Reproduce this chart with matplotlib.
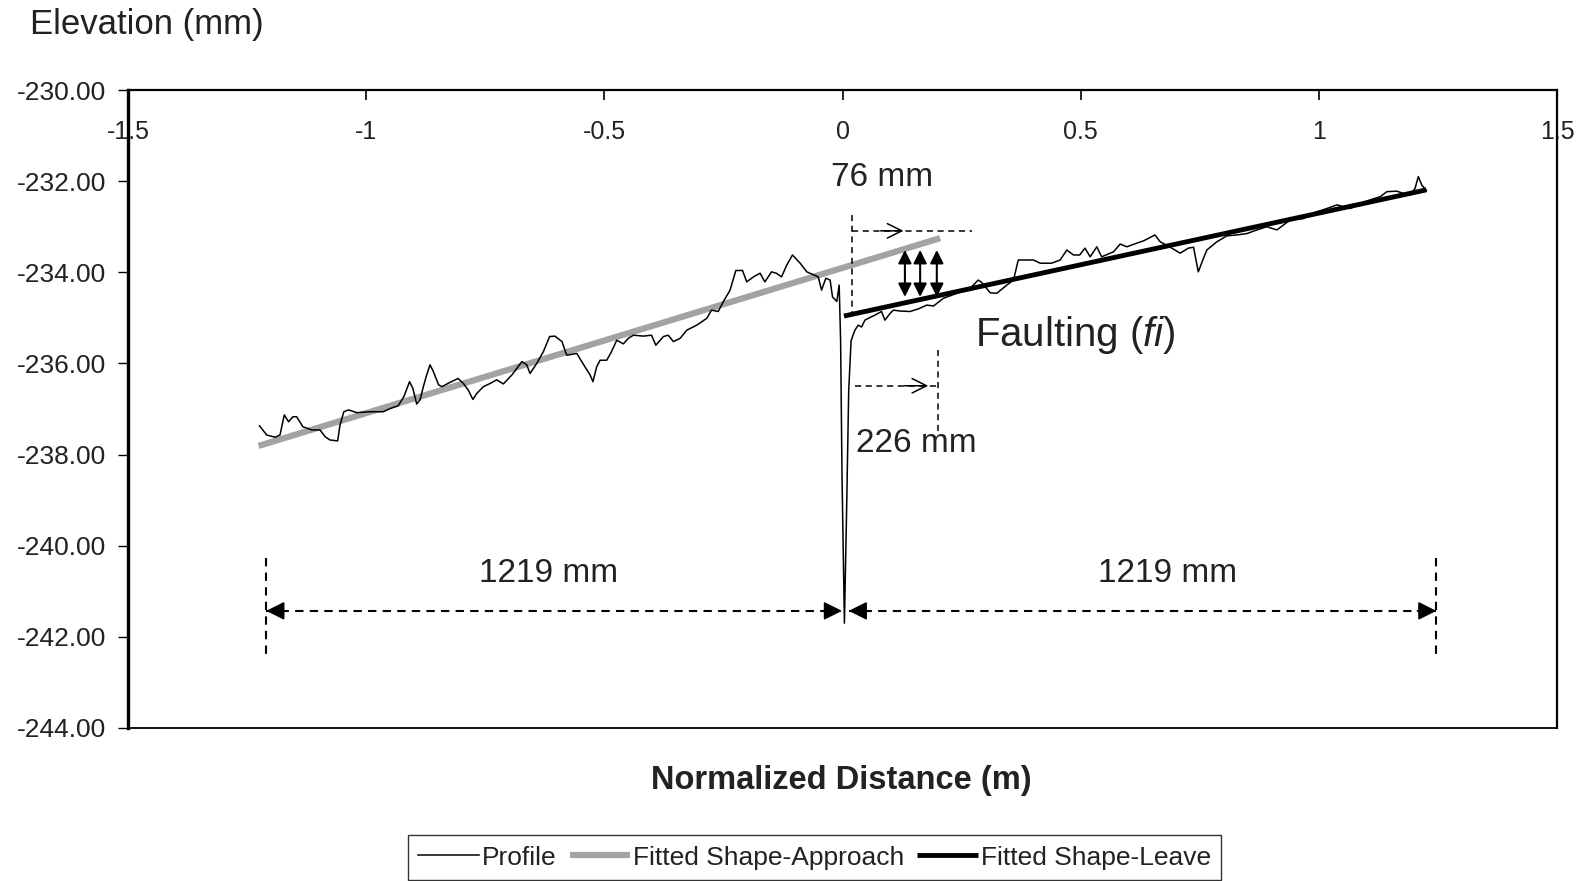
"""Faulting profile: elevation vs normalized distance with fitted approach/leave shapes."""

import matplotlib
matplotlib.use("Agg")
import matplotlib.pyplot as plt

plt.rcParams["font.family"] = ["Liberation Sans", "DejaVu Sans"]
plt.rcParams["mathtext.fontset"] = "custom"
plt.rcParams["mathtext.rm"] = "Liberation Sans"
plt.rcParams["mathtext.it"] = "Liberation Sans:italic"

# --- data --------------------------------------------------------------
profile_x = [
    -1.224, -1.209, -1.191, -1.181, -1.172, -1.163, -1.154, -1.146, -1.133, -1.114,
    -1.097, -1.086, -1.076, -1.060, -1.055, -1.047, -1.037, -1.020, -0.992, -0.964,
    -0.950, -0.933, -0.921, -0.909, -0.902, -0.894, -0.887, -0.880, -0.873, -0.866,
    -0.859, -0.848, -0.841, -0.825, -0.807, -0.796, -0.786, -0.776, -0.768, -0.754,
    -0.740, -0.726, -0.712, -0.694, -0.673, -0.663, -0.656, -0.642, -0.628, -0.615,
    -0.604, -0.589, -0.579, -0.558, -0.541, -0.530, -0.524, -0.516, -0.509, -0.495,
    -0.485, -0.474, -0.460, -0.450, -0.439, -0.418, -0.401, -0.392, -0.376, -0.366,
    -0.355, -0.341, -0.327, -0.306, -0.285, -0.275, -0.261, -0.250, -0.236, -0.224,
    -0.210, -0.201, -0.187, -0.173, -0.163, -0.149, -0.139, -0.128, -0.117, -0.105,
    -0.089, -0.075, -0.062, -0.051, -0.044, -0.035, -0.026, -0.021, -0.012, -0.007,
    -0.004, -0.001, 0.004, 0.009, 0.013, 0.018, 0.026, 0.033, 0.040, 0.047,
    0.058, 0.068, 0.082, 0.089, 0.100, 0.107, 0.121, 0.142, 0.160, 0.177,
    0.191, 0.212, 0.243, 0.268, 0.285, 0.292, 0.310, 0.324, 0.345, 0.359,
    0.369, 0.401, 0.415, 0.439, 0.457, 0.471, 0.485, 0.498, 0.509, 0.520,
    0.534, 0.544, 0.569, 0.583, 0.597, 0.618, 0.632, 0.656, 0.667, 0.688,
    0.709, 0.726, 0.737, 0.747, 0.758, 0.765, 0.786, 0.807, 0.828, 0.849,
    0.870, 0.891, 0.912, 0.926, 0.940, 0.968, 0.982, 0.996, 1.017, 1.038,
    1.066, 1.087, 1.108, 1.129, 1.143, 1.164, 1.178, 1.192, 1.202, 1.209,
    1.216, 1.226,
]
profile_y = [
    -237.37, -237.57, -237.62, -237.57, -237.13, -237.28, -237.17, -237.17, -237.39, -237.46,
    -237.46, -237.61, -237.68, -237.70, -237.35, -237.06, -237.02, -237.08, -237.06, -237.06,
    -236.99, -236.93, -236.73, -236.40, -236.55, -236.89, -236.80, -236.51, -236.25, -236.03,
    -236.18, -236.47, -236.51, -236.42, -236.33, -236.44, -236.58, -236.79, -236.66, -236.51,
    -236.44, -236.36, -236.45, -236.25, -235.96, -236.03, -236.22, -236.00, -235.74, -235.41,
    -235.40, -235.52, -235.82, -235.78, -236.07, -236.25, -236.40, -236.07, -235.93, -235.93,
    -235.74, -235.49, -235.57, -235.45, -235.38, -235.40, -235.38, -235.60, -235.41, -235.38,
    -235.52, -235.45, -235.27, -235.16, -235.01, -234.83, -234.86, -234.64, -234.39, -233.96,
    -233.96, -234.21, -234.10, -234.02, -234.21, -233.99, -234.02, -234.10, -233.84, -233.62,
    -233.80, -233.99, -234.05, -234.10, -234.39, -234.13, -234.17, -234.54, -234.64, -234.28,
    -235.50, -238.50, -241.70, -239.00, -236.60, -235.50, -235.27, -235.16, -235.20, -235.05,
    -234.99, -234.94, -234.86, -235.05, -234.90, -234.83, -234.85, -234.86, -234.80, -234.72,
    -234.74, -234.57, -234.45, -234.35, -234.17, -234.22, -234.45, -234.46, -234.28, -234.17,
    -233.73, -233.73, -233.80, -233.80, -233.73, -233.51, -233.62, -233.62, -233.47, -233.66,
    -233.44, -233.66, -233.55, -233.38, -233.44, -233.36, -233.31, -233.18, -233.33, -233.45,
    -233.58, -233.47, -233.45, -233.99, -233.69, -233.51, -233.33, -233.20, -233.18, -233.15,
    -233.07, -233.00, -233.07, -232.96, -232.85, -232.82, -232.74, -232.67, -232.60, -232.52,
    -232.60, -232.49, -232.41, -232.34, -232.23, -232.22, -232.27, -232.30, -232.16, -231.90,
    -232.08, -232.21,
]

approach_x = [-1.226, 0.205]
approach_y = [-237.81, -233.25]
leave_x = [0.003, 1.226]
leave_y = [-234.96, -232.19]

x_ticks = [-1.5, -1, -0.5, 0, 0.5, 1, 1.5]
x_tick_labels = ["-1.5", "-1", "-0.5", "0", "0.5", "1", "1.5"]
y_ticks = [-230, -232, -234, -236, -238, -240, -242, -244]

# annotation geometry (data units)
span_left, span_mid, span_right = -1.21, 0.004, 1.247
span_y = -241.43
tick_top, tick_bottom = -240.27, -242.49
fault_arrow_x = [0.131, 0.163, 0.198]
fault_arrow_top, fault_arrow_bottom = -233.51, -234.54

BLACK = "#000000"
GREY = "#a3a3a3"
TXT = "#222222"

fig = plt.figure(figsize=(15.85, 8.81), dpi=100)
ax = fig.add_axes([0.0808, 0.1737, 0.9015, 0.7241])

ax.plot(profile_x, profile_y, color=BLACK, lw=1.1, label="Profile", zorder=3)
ax.plot(approach_x, approach_y, color=GREY, lw=4.5, label="Fitted Shape-Approach",
        solid_capstyle="butt", zorder=2)
ax.plot(leave_x, leave_y, color=BLACK, lw=3.5, label="Fitted Shape-Leave",
        solid_capstyle="butt", zorder=4)

ax.set_xlim(-1.5, 1.5)
ax.set_ylim(-244, -230)
ax.set_xticks(x_ticks)
ax.set_xticklabels(x_tick_labels)
ax.set_yticks(y_ticks)
ax.set_yticklabels([f"{v:.2f}" for v in y_ticks])

ax.tick_params(axis="x", top=True, bottom=False, labeltop=True, labelbottom=False,
               direction="in", length=7, width=1.2, pad=-39, labelsize=18, labelcolor=TXT)
ax.tick_params(axis="y", direction="out", length=7, width=1.0, pad=9, labelsize=19,
               labelcolor=TXT)
for side, w in {"left": 2.4, "top": 1.6, "right": 1.6, "bottom": 1.3}.items():
    ax.spines[side].set_linewidth(w)
    ax.spines[side].set_color(BLACK)

# --- 1219 mm span arrows ---------------------------------------------
dash = dict(color=BLACK, lw=1.5, ls=(0, (4, 3)))
ax.plot([span_left, span_left], [tick_top, tick_bottom], **dash)
ax.plot([span_right, span_right], [tick_top, tick_bottom], **dash)
ax.plot([span_left, span_mid - 0.01], [span_y, span_y], **dash)
ax.plot([span_mid + 0.01, span_right], [span_y, span_y], **dash)
head = dict(arrowstyle="-|>", color=BLACK, lw=1.2, mutation_scale=28, shrinkA=0, shrinkB=0)
for tip, tail in [(span_left, span_left + 0.04), (span_mid - 0.005, span_mid - 0.045),
                  (span_mid + 0.009, span_mid + 0.05), (span_right, span_right - 0.04)]:
    ax.annotate("", xy=(tip, span_y), xytext=(tail, span_y), arrowprops=head)

ax.text(-0.618, -240.62, "1219 mm", fontsize=24, ha="center", va="center", color=TXT)
ax.text(0.683, -240.62, "1219 mm", fontsize=24, ha="center", va="center", color=TXT)

# --- 76 mm marker ------------------------------------------------------
thin = dict(color=BLACK, lw=1.1, ls=(0, (4, 3)))
ax.plot([0.020, 0.020], [-232.74, -234.89], **thin)
ax.plot([0.019, 0.271], [-233.09, -233.09], **thin)
ax.annotate("", xy=(0.128, -233.09), xytext=(0.08, -233.09),
            arrowprops=dict(arrowstyle="->", color=BLACK, lw=1.1, mutation_scale=26,
                            shrinkA=0, shrinkB=0))
ax.text(0.082, -231.93, "76 mm", fontsize=24, ha="center", va="center", color=TXT)

# --- 226 mm marker -----------------------------------------------------
ax.plot([0.201, 0.201], [-235.70, -237.53], **thin)
ax.plot([0.026, 0.201], [-236.49, -236.49], **thin)
ax.annotate("", xy=(0.18, -236.49), xytext=(0.13, -236.49),
            arrowprops=dict(arrowstyle="->", color=BLACK, lw=1.1, mutation_scale=26,
                            shrinkA=0, shrinkB=0))
ax.text(0.155, -237.75, "226 mm", fontsize=24, ha="center", va="center", color=TXT)

# --- faulting arrows ---------------------------------------------------
for fx in fault_arrow_x:
    ax.annotate("", xy=(fx, fault_arrow_top), xytext=(fx, fault_arrow_bottom),
                arrowprops=dict(arrowstyle="<|-|>", color=BLACK, lw=1.5,
                                mutation_scale=20, shrinkA=0, shrinkB=0), zorder=5)
ax.text(0.49, -235.37, r"Faulting ($\mathit{fi}$)", fontsize=29, ha="center",
        va="center", color=TXT)

# --- labels and legend -------------------------------------------------
fig.text(0.019, 0.972, "Elevation (mm)", fontsize=25, ha="left", va="center", color=TXT)
fig.text(0.531, 0.1146, "Normalized Distance (m)", fontsize=23.5, fontweight="bold",
         ha="center", va="center", color=TXT)

leg = fig.legend(loc="upper center", bbox_to_anchor=(0.514, 0.0522), ncol=3,
                 fontsize=19, frameon=True, fancybox=False, edgecolor=BLACK,
                 handlelength=2.3, handletextpad=0.1, columnspacing=0.5,
                 borderpad=0.4, borderaxespad=0)
leg.get_frame().set_linewidth(1.0)
for t in leg.get_texts():
    t.set_color(TXT)

fig.savefig("out.png", dpi=100, facecolor="white")
